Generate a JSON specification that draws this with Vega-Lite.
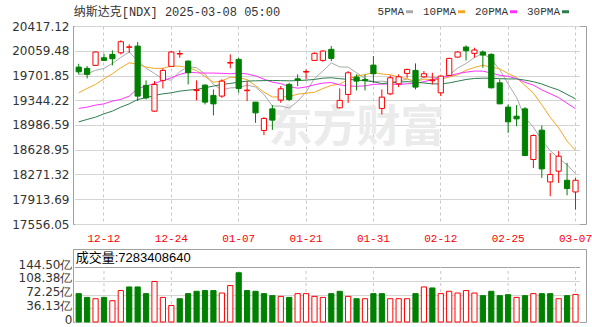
{
  "$schema": "https://vega.github.io/schema/vega-lite/v6.json",
  "background": "white",
  "padding": {"left": 11, "top": 5, "right": 5, "bottom": 5},
  "config": {
    "view": {"stroke": "#a0a0a0"},
    "axis": {"labelFont": "DejaVu Sans", "labelFontSize": 12, "labelColor": "#333333", "title": null, "ticks": false, "domain": false, "labelOverlap": false}
  },
  "data": {"values": [
    {"d":"12-09","open":19823,"high":19871,"low":19718,"close":19755,"vol":74.9,"vup":false,"5PMA":19718,"10PMA":19452,"20PMA":19226,"30PMA":19032},
    {"d":"12-10","open":19805,"high":19838,"low":19660,"close":19718,"vol":65.0,"vup":false,"5PMA":19727,"10PMA":19515,"20PMA":19245,"30PMA":19067},
    {"d":"12-11","open":19848,"high":20048,"low":19841,"close":20041,"vol":61.5,"vup":true,"5PMA":19776,"10PMA":19573,"20PMA":19274,"30PMA":19100},
    {"d":"12-12","open":19958,"high":20016,"low":19910,"close":19920,"vol":65.0,"vup":false,"5PMA":19805,"10PMA":19654,"20PMA":19292,"30PMA":19148},
    {"d":"12-13","open":20007,"high":20065,"low":19848,"close":19944,"vol":56.2,"vup":true,"5PMA":19876,"10PMA":19727,"20PMA":19332,"30PMA":19187},
    {"d":"12-16","open":20030,"high":20210,"low":20007,"close":20190,"vol":83.0,"vup":true,"5PMA":19963,"10PMA":19813,"20PMA":19356,"30PMA":19245},
    {"d":"12-17","open":20109,"high":20152,"low":20030,"close":20116,"vol":92.6,"vup":false,"5PMA":20042,"10PMA":19886,"20PMA":19404,"30PMA":19292},
    {"d":"12-18","open":20127,"high":20185,"low":19332,"close":19404,"vol":92.6,"vup":false,"5PMA":19915,"10PMA":19863,"20PMA":19515,"30PMA":19356},
    {"d":"12-19","open":19559,"high":19631,"low":19356,"close":19379,"vol":74.9,"vup":false,"5PMA":19807,"10PMA":19824,"20PMA":19549,"30PMA":19379},
    {"d":"12-20","open":19187,"high":19621,"low":19177,"close":19573,"vol":107.0,"vup":true,"5PMA":19732,"10PMA":19804,"20PMA":19587,"30PMA":19414},
    {"d":"12-23","open":19631,"high":19805,"low":19515,"close":19776,"vol":65.0,"vup":true,"5PMA":19650,"10PMA":19806,"20PMA":19631,"30PMA":19437},
    {"d":"12-24","open":19834,"high":20055,"low":19834,"close":20041,"vol":43.6,"vup":true,"5PMA":19635,"10PMA":19838,"20PMA":19669,"30PMA":19452},
    {"d":"12-26","open":20012,"high":20065,"low":19958,"close":20019,"vol":61.5,"vup":false,"5PMA":19758,"10PMA":19836,"20PMA":19718,"30PMA":19476},
    {"d":"12-27","open":19910,"high":19920,"low":19573,"close":19741,"vol":74.9,"vup":false,"5PMA":19830,"10PMA":19818,"20PMA":19751,"30PMA":19490},
    {"d":"12-30","open":19486,"high":19631,"low":19342,"close":19495,"vol":81.1,"vup":false,"5PMA":19814,"10PMA":19773,"20PMA":19741,"30PMA":19501},
    {"d":"12-31","open":19563,"high":19573,"low":19284,"close":19317,"vol":83.0,"vup":false,"5PMA":19723,"10PMA":19686,"20PMA":19737,"30PMA":19524},
    {"d":"01-02","open":19414,"high":19501,"low":19125,"close":19292,"vol":83.0,"vup":false,"5PMA":19573,"10PMA":19604,"20PMA":19737,"30PMA":19549},
    {"d":"01-03","open":19404,"high":19646,"low":19379,"close":19621,"vol":76.5,"vup":true,"5PMA":19493,"10PMA":19625,"20PMA":19733,"30PMA":19573},
    {"d":"01-06","open":19881,"high":20007,"low":19805,"close":19890,"vol":96.3,"vup":true,"5PMA":19523,"10PMA":19677,"20PMA":19727,"30PMA":19587},
    {"d":"01-07","open":19935,"high":19958,"low":19452,"close":19515,"vol":130.1,"vup":false,"5PMA":19527,"10PMA":19671,"20PMA":19737,"30PMA":19606},
    {"d":"01-08","open":19482,"high":19621,"low":19332,"close":19491,"vol":83.0,"vup":false,"5PMA":19562,"10PMA":19642,"20PMA":19724,"30PMA":19621},
    {"d":"01-10","open":19317,"high":19317,"low":19018,"close":19162,"vol":81.1,"vup":false,"5PMA":19536,"10PMA":19554,"20PMA":19696,"30PMA":19625},
    {"d":"01-13","open":18908,"high":19100,"low":18840,"close":19081,"vol":74.9,"vup":false,"5PMA":19428,"10PMA":19461,"20PMA":19648,"30PMA":19628},
    {"d":"01-14","open":19220,"high":19274,"low":18916,"close":19057,"vol":69.6,"vup":false,"5PMA":19261,"10PMA":19392,"20PMA":19605,"30PMA":19630},
    {"d":"01-15","open":19346,"high":19549,"low":19307,"close":19510,"vol":67.7,"vup":true,"5PMA":19260,"10PMA":19394,"20PMA":19584,"30PMA":19628},
    {"d":"01-16","open":19573,"high":19596,"low":19332,"close":19356,"vol":65.0,"vup":false,"5PMA":19233,"10PMA":19398,"20PMA":19542,"30PMA":19625},
    {"d":"01-17","open":19654,"high":19718,"low":19549,"close":19635,"vol":74.9,"vup":true,"5PMA":19328,"10PMA":19432,"20PMA":19518,"30PMA":19628},
    {"d":"01-21","open":19751,"high":19790,"low":19646,"close":19760,"vol":74.9,"vup":true,"5PMA":19464,"10PMA":19446,"20PMA":19536,"30PMA":19635},
    {"d":"01-22","open":19920,"high":20036,"low":19913,"close":20022,"vol":67.7,"vup":true,"5PMA":19657,"10PMA":19459,"20PMA":19568,"30PMA":19645},
    {"d":"01-23","open":19920,"high":20065,"low":19900,"close":20055,"vol":65.0,"vup":true,"5PMA":19766,"10PMA":19513,"20PMA":19592,"30PMA":19663},
    {"d":"01-24","open":20080,"high":20127,"low":19910,"close":19949,"vol":74.9,"vup":false,"5PMA":19884,"10PMA":19559,"20PMA":19600,"30PMA":19669},
    {"d":"01-27","open":19235,"high":19515,"low":19226,"close":19342,"vol":81.1,"vup":false,"5PMA":19826,"10PMA":19577,"20PMA":19566,"30PMA":19656},
    {"d":"01-28","open":19428,"high":19766,"low":19307,"close":19741,"vol":67.7,"vup":true,"5PMA":19822,"10PMA":19643,"20PMA":19552,"30PMA":19646},
    {"d":"01-29","open":19679,"high":19718,"low":19486,"close":19621,"vol":61.5,"vup":false,"5PMA":19742,"10PMA":19699,"20PMA":19546,"30PMA":19637},
    {"d":"01-30","open":19643,"high":19718,"low":19486,"close":19628,"vol":61.5,"vup":true,"5PMA":19656,"10PMA":19711,"20PMA":19552,"30PMA":19626},
    {"d":"01-31","open":19852,"high":19983,"low":19596,"close":19727,"vol":74.9,"vup":false,"5PMA":19612,"10PMA":19748,"20PMA":19573,"30PMA":19611},
    {"d":"02-03","open":19226,"high":19501,"low":19139,"close":19389,"vol":74.9,"vup":false,"5PMA":19621,"10PMA":19723,"20PMA":19578,"30PMA":19586},
    {"d":"02-04","open":19437,"high":19703,"low":19418,"close":19669,"vol":61.5,"vup":true,"5PMA":19607,"10PMA":19714,"20PMA":19580,"30PMA":19595},
    {"d":"02-05","open":19582,"high":19718,"low":19534,"close":19683,"vol":61.5,"vup":true,"5PMA":19619,"10PMA":19680,"20PMA":19570,"30PMA":19605},
    {"d":"02-06","open":19732,"high":19799,"low":19669,"close":19790,"vol":61.5,"vup":true,"5PMA":19652,"10PMA":19654,"20PMA":19583,"30PMA":19613},
    {"d":"02-07","open":19776,"high":19877,"low":19501,"close":19534,"vol":74.9,"vup":false,"5PMA":19613,"10PMA":19612,"20PMA":19586,"30PMA":19604},
    {"d":"02-10","open":19683,"high":19766,"low":19669,"close":19727,"vol":92.6,"vup":true,"5PMA":19681,"10PMA":19651,"20PMA":19614,"30PMA":19594},
    {"d":"02-11","open":19627,"high":19741,"low":19573,"close":19635,"vol":89.9,"vup":false,"5PMA":19674,"10PMA":19640,"20PMA":19642,"30PMA":19581},
    {"d":"02-12","open":19452,"high":19703,"low":19404,"close":19693,"vol":74.9,"vup":true,"5PMA":19676,"10PMA":19648,"20PMA":19673,"30PMA":19580},
    {"d":"02-13","open":19703,"high":19958,"low":19698,"close":19949,"vol":81.1,"vup":true,"5PMA":19708,"10PMA":19680,"20PMA":19695,"30PMA":19595},
    {"d":"02-14","open":19968,"high":20055,"low":19958,"close":20041,"vol":76.5,"vup":true,"5PMA":19809,"10PMA":19711,"20PMA":19730,"30PMA":19619},
    {"d":"02-18","open":20113,"high":20137,"low":19920,"close":20060,"vol":83.0,"vup":true,"5PMA":19875,"10PMA":19778,"20PMA":19750,"30PMA":19644},
    {"d":"02-19","open":20022,"high":20103,"low":19958,"close":20070,"vol":76.5,"vup":true,"5PMA":19961,"10PMA":19818,"20PMA":19766,"30PMA":19659},
    {"d":"02-20","open":20041,"high":20065,"low":19813,"close":19997,"vol":69.6,"vup":false,"5PMA":20022,"10PMA":19849,"20PMA":19765,"30PMA":19663},
    {"d":"02-21","open":20007,"high":20022,"low":19515,"close":19524,"vol":81.1,"vup":false,"5PMA":19937,"10PMA":19822,"20PMA":19738,"30PMA":19663},
    {"d":"02-24","open":19596,"high":19646,"low":19292,"close":19292,"vol":69.6,"vup":false,"5PMA":19787,"10PMA":19798,"20PMA":19705,"30PMA":19656},
    {"d":"02-25","open":19245,"high":19284,"low":18873,"close":19032,"vol":72.2,"vup":false,"5PMA":19580,"10PMA":19729,"20PMA":19690,"30PMA":19652},
    {"d":"02-26","open":19114,"high":19274,"low":18970,"close":19075,"vol":65.0,"vup":true,"5PMA":19384,"10PMA":19673,"20PMA":19657,"30PMA":19652},
    {"d":"02-27","open":19220,"high":19245,"low":18536,"close":18546,"vol":69.6,"vup":false,"5PMA":19094,"10PMA":19558,"20PMA":19603,"30PMA":19635},
    {"d":"02-28","open":18488,"high":18850,"low":18366,"close":18835,"vol":74.9,"vup":true,"5PMA":18956,"10PMA":19447,"20PMA":19563,"30PMA":19612},
    {"d":"03-03","open":18912,"high":18980,"low":18222,"close":18352,"vol":74.9,"vup":false,"5PMA":18768,"10PMA":19278,"20PMA":19494,"30PMA":19579},
    {"d":"03-04","open":18164,"high":18583,"low":17957,"close":18271,"vol":74.9,"vup":false,"5PMA":18616,"10PMA":19098,"20PMA":19438,"30PMA":19533},
    {"d":"03-05","open":18319,"high":18608,"low":18149,"close":18536,"vol":61.5,"vup":true,"5PMA":18508,"10PMA":18946,"20PMA":19382,"30PMA":19493},
    {"d":"03-06","open":18188,"high":18439,"low":17971,"close":18068,"vol":69.6,"vup":false,"5PMA":18412,"10PMA":18753,"20PMA":19301,"30PMA":19428},
    {"d":"03-07","open":18019,"high":18222,"low":17764,"close":18188,"vol":72.83,"vup":true,"5PMA":18283,"10PMA":18620,"20PMA":19221,"30PMA":19365}
  ]},
  "spacing": 25,
  "bounds": "flush",
  "vconcat": [
    {
      "width": 513,
      "height": 198,
      "encoding": {
        "x": {"field": "d", "type": "ordinal", "sort": null,
          "scale": {"type": "band", "domain": ["12-09","12-10","12-11","12-12","12-13","12-16","12-17","12-18","12-19","12-20","12-23","12-24","12-26","12-27","12-30","12-31","01-02","01-03","01-06","01-07","01-08","01-10","01-13","01-14","01-15","01-16","01-17","01-21","01-22","01-23","01-24","01-27","01-28","01-29","01-30","01-31","02-03","02-04","02-05","02-06","02-07","02-10","02-11","02-12","02-13","02-14","02-18","02-19","02-20","02-21","02-24","02-25","02-26","02-27","02-28","03-03","03-04","03-05","03-06","03-07"], "range": [1.5, 506.7], "paddingInner": 0.38, "paddingOuter": 0.19},
          "axis": {"values": ["12-12","12-24","01-07","01-21","01-31","02-12","02-25","03-07"], "labelColor": "#ff0000", "labelFont": "Liberation Mono", "labelFontSize": 11, "labelAngle": 0, "labelPadding": 8, "labelOverlap": false, "grid": true, "gridDash": [3, 3], "gridColor": "#c8c8c8", "bandPosition": 0.5}
        }
      },
      "layer": [
        {
          "data": {"values": [{"d": "01-29", "p": 18926, "t": "东方财富"}]},
          "mark": {"type": "text", "font": "Noto Sans CJK SC", "fontSize": 44, "fontWeight": "bold", "color": "#ebebeb"},
          "encoding": {
            "x": {"field": "d", "type": "ordinal", "sort": null},
            "y": {"field": "p", "type": "quantitative",
              "axis": {"values": [17556.05, 17913.69, 18271.32, 18628.95, 18986.59, 19344.22, 19701.85, 20059.48, 20417.12], "format": ".2f", "labelPadding": 4, "labelOverlap": false, "grid": true, "gridColor": "#d4d4d4"}},
            "text": {"field": "t"}
          }
        },
        {
          "data": {"values": [{"d": "12-09", "p": 20621, "t": "纳斯达克[NDX] 2025-03-08 05:00"}]},
          "mark": {"type": "text", "align": "left", "baseline": "middle", "dx": -5, "font": "Liberation Mono, Noto Sans CJK SC", "fontSize": 12, "color": "#333333"},
          "encoding": {
            "x": {"field": "d", "type": "ordinal", "sort": null},
            "y": {"field": "p", "type": "quantitative",
              "axis": {"values": [17556.05, 17913.69, 18271.32, 18628.95, 18986.59, 19344.22, 19701.85, 20059.48, 20417.12], "format": ".2f", "labelPadding": 4, "labelOverlap": false, "grid": true, "gridColor": "#d4d4d4"}},
            "text": {"field": "t"}
          }
        },
        {
          "transform": [{"fold": ["5PMA", "10PMA", "20PMA", "30PMA"], "as": ["ma", "val"]}],
          "mark": {"type": "line", "strokeWidth": 1},
          "encoding": {
            "y": {"field": "val", "type": "quantitative",
              "scale": {"domain": [17556.05, 20417.12], "nice": false, "zero": false},
              "axis": {"values": [17556.05, 17913.69, 18271.32, 18628.95, 18986.59, 19344.22, 19701.85, 20059.48, 20417.12], "format": ".2f", "labelPadding": 4, "labelOverlap": false, "grid": true, "gridColor": "#d4d4d4"}
            },
            "color": {"field": "ma", "type": "nominal",
              "scale": {"domain": ["5PMA", "10PMA", "20PMA", "30PMA"], "range": ["#aaaaaa", "#f5a623", "#ff33ff", "#2e7d4f"]},
              "legend": {"orient": "none", "legendX": 331, "legendY": -20, "direction": "horizontal", "title": null, "symbolType": "stroke", "symbolStrokeWidth": 3, "symbolSize": 49, "labelFont": "Liberation Mono", "labelFontSize": 11, "labelColor": "#333333", "labelAlign": "right", "labelOffset": -11, "columnPadding": 3}
            }
          }
        },
        {
          "mark": {"type": "rule", "strokeWidth": 1},
          "encoding": {
            "y": {"field": "low", "type": "quantitative",
              "axis": {"values": [17556.05, 17913.69, 18271.32, 18628.95, 18986.59, 19344.22, 19701.85, 20059.48, 20417.12], "format": ".2f", "labelPadding": 4, "labelOverlap": false, "grid": true, "gridColor": "#d4d4d4"}},
            "y2": {"field": "high"},
            "color": {"condition": {"test": "datum.close >= datum.open", "value": "#ff0000"}, "value": "#008000"}
          }
        },
        {
          "mark": {"type": "bar", "strokeWidth": 1},
          "encoding": {
            "y": {"field": "open", "type": "quantitative",
              "axis": {"values": [17556.05, 17913.69, 18271.32, 18628.95, 18986.59, 19344.22, 19701.85, 20059.48, 20417.12], "format": ".2f", "labelPadding": 4, "labelOverlap": false, "grid": true, "gridColor": "#d4d4d4"}},
            "y2": {"field": "close"},
            "fill": {"condition": {"test": "datum.close >= datum.open", "value": "#ffffff"}, "value": "#008000"},
            "stroke": {"condition": {"test": "datum.close >= datum.open", "value": "#ff0000"}, "value": "#008000"}
          }
        }
      ]
    },
    {
      "width": 513,
      "height": 73,
      "encoding": {
        "x": {"field": "d", "type": "ordinal", "sort": null,
          "scale": {"type": "band", "domain": ["12-09","12-10","12-11","12-12","12-13","12-16","12-17","12-18","12-19","12-20","12-23","12-24","12-26","12-27","12-30","12-31","01-02","01-03","01-06","01-07","01-08","01-10","01-13","01-14","01-15","01-16","01-17","01-21","01-22","01-23","01-24","01-27","01-28","01-29","01-30","01-31","02-03","02-04","02-05","02-06","02-07","02-10","02-11","02-12","02-13","02-14","02-18","02-19","02-20","02-21","02-24","02-25","02-26","02-27","02-28","03-03","03-04","03-05","03-06","03-07"], "range": [1.5, 506.7], "paddingInner": 0.38, "paddingOuter": 0.19},
          "axis": null}
      },
      "layer": [
        {
          "transform": [{"filter": {"field": "d", "oneOf": ["12-12","12-24","01-07","01-21","01-31","02-12","02-25","03-07"]}}],
          "mark": {"type": "rule", "strokeDash": [3, 3], "color": "#c8c8c8"},
          "encoding": {
            "y": {"datum": 0, "type": "quantitative",
              "axis": {"values": [0, 36.125, 72.25, 108.375, 144.5], "labelExpr": "datum.value == 0 ? '0' : format(datum.value, '.2f') + '亿'", "labelPadding": 1, "labelOffset": -3, "labelOverlap": false, "grid": true, "gridColor": {"condition": {"test": "datum.value == 144.5", "value": "#a0a0a0"}, "value": "#d4d4d4"}}},
            "y2": {"datum": 144.5}
          }
        },
        {
          "data": {"values": [{"d": "12-09", "v": 169, "t": "成交量:7283408640"}]},
          "mark": {"type": "text", "align": "left", "baseline": "middle", "dx": -3, "font": "Liberation Sans, Noto Sans CJK SC", "fontSize": 13, "color": "#000000"},
          "encoding": {
            "x": {"field": "d", "type": "ordinal", "sort": null},
            "y": {"field": "v", "type": "quantitative",
              "axis": {"values": [0, 36.125, 72.25, 108.375, 144.5], "labelExpr": "datum.value == 0 ? '0' : format(datum.value, '.2f') + '亿'", "labelPadding": 1, "labelOffset": -3, "labelOverlap": false, "grid": true, "gridColor": {"condition": {"test": "datum.value == 144.5", "value": "#a0a0a0"}, "value": "#d4d4d4"}}},
            "text": {"field": "t"}
          }
        },
        {
          "mark": {"type": "bar", "strokeWidth": 1},
          "encoding": {
            "y": {"field": "vol", "type": "quantitative",
              "scale": {"domain": [0, 192.8], "nice": false},
              "axis": {"values": [0, 36.125, 72.25, 108.375, 144.5], "labelExpr": "datum.value == 0 ? '0' : format(datum.value, '.2f') + '亿'", "labelPadding": 1, "labelOffset": -3, "labelOverlap": false, "grid": true, "gridColor": {"condition": {"test": "datum.value == 144.5", "value": "#a0a0a0"}, "value": "#d4d4d4"}}
            },
            "fill": {"condition": {"test": "datum.vup", "value": "#ffffff"}, "value": "#008000"},
            "stroke": {"condition": {"test": "datum.vup", "value": "#ff0000"}, "value": "#008000"}
          }
        }
      ]
    }
  ]
}
